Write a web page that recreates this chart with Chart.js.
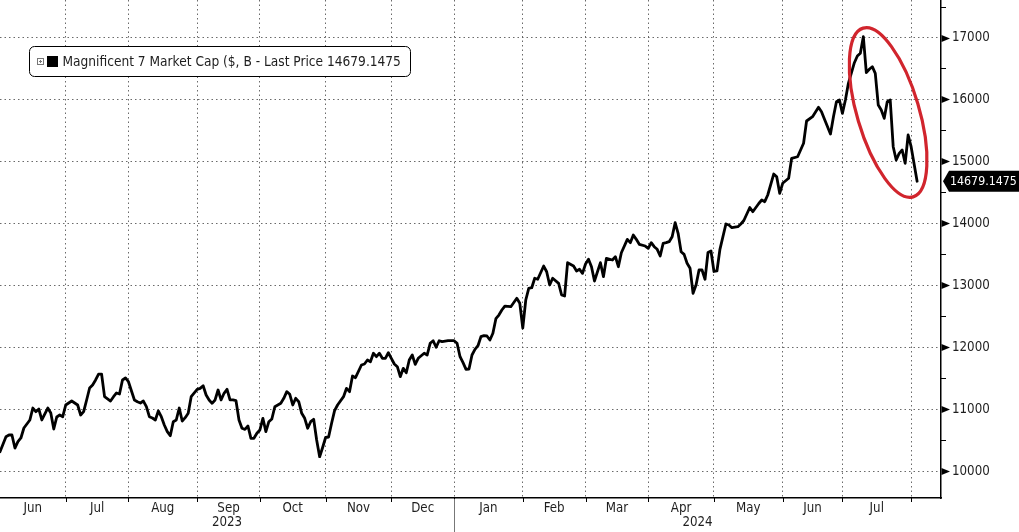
<!DOCTYPE html>
<html>
<head>
<meta charset="utf-8">
<script src="https://cdn.jsdelivr.net/npm/chart.js@4.4.1/dist/chart.umd.min.js"></script>
<style>
html,body{margin:0;padding:0;background:#fff;}
#wrap{width:1019px;height:532px;position:relative;overflow:hidden;}
canvas{display:block;}
</style>
</head>
<body>
<div id="wrap"><canvas id="c" width="1019" height="532"></canvas></div>
<script>
// ---- data (x = trading-day number counted from 1 Jun 2023) ----
const tradingDay = [0,2,3,4,5,6,7,8,10,11,12,13,14,16,17,18,19,20,21,22,23,24,26,27,28,29,30,31,32,33,34,35,37,38,39,40,41,42,43,45,46,47,48,49,50,51,52,53,54,55,56,57,58,59,60,61,62,63,64,66,67,68,69,70,71,72,73,74,75,76,77,78,79,80,81,82,83,84,85,86,87,88,89,90,91,92,94,95,96,97,98,99,100,101,102,103,104,105,106,107,108,109,110,111,112,113,115,116,117,118,119,121,122,123,124,125,126,127,128,129,130,131,132,133,134,135,136,137,138,139,140,142,143,144,145,146,147,148,150,152,153,154,155,156,157,158,159,160,161,162,163,164,165,166,167,168,169,171,173,174,175,176,177,178,179,180,182,183,184,185,187,188,189,190,192,193,194,195,196,197,198,199,201,202,203,205,206,207,208,210,211,212,213,214,216,217,218,219,220,221,222,223,224,225,226,227,228,229,230,231,232,233,234,235,236,237,238,239,240,241,243,244,245,247,248,249,251,252,254,255,256,257,259,260,261,262,264,265,267,269,270,272,274,275,276,278,279,280,281,282,283,284,286,287,288,289,290,291,292,293,294,295,296,297,298,299,300,301,302,303,304,305,307];
const marketCap = [10312,10554,10581,10581,10371,10473,10533,10694,10824,11017,10958,11001,10824,11017,10937,10678,10872,10904,10877,11066,11098,11130,11066,10904,10958,11147,11340,11389,11470,11566,11566,11200,11130,11200,11260,11243,11470,11502,11442,11147,11119,11098,11130,11038,10877,10856,10824,10969,10877,10743,10635,10570,10796,10824,11017,10807,10861,10932,11200,11319,11335,11377,11227,11147,11093,11147,11308,11147,11255,11319,11147,11147,11135,10824,10690,10673,10727,10528,10528,10609,10662,10851,10635,10796,10840,11038,11093,11174,11281,11239,11066,11174,11119,10932,10851,10690,10796,10835,10501,10231,10380,10541,10549,10770,10974,11066,11200,11335,11281,11534,11507,11712,11728,11792,11765,11901,11846,11901,11820,11820,11910,11820,11728,11684,11523,11658,11587,11792,11873,11723,11820,11901,11873,12062,12104,11998,12104,12088,12104,12104,12062,11846,11749,11642,11647,11873,11965,12023,12169,12185,12180,12115,12224,12460,12519,12600,12664,12653,12789,12708,12309,12761,12950,12960,13112,13096,13310,13218,13004,13112,13031,12842,12826,13364,13310,13230,13257,13192,13343,13419,13299,13068,13364,13138,13435,13407,13461,13299,13525,13741,13687,13811,13741,13661,13633,13596,13687,13622,13580,13472,13677,13687,13703,13784,14010,13838,13541,13499,13354,13273,12870,13004,13246,13246,13096,13528,13553,13222,13230,13580,13989,13972,13929,13945,13989,14045,14255,14187,14320,14376,14349,14457,14796,14752,14484,14646,14727,15050,15075,15292,15652,15721,15873,15802,15679,15442,15721,15963,15991,15776,15991,16261,16593,16701,16745,17013,16432,16487,16529,16422,15910,15829,15695,15963,15991,15237,15022,15130,15184,14969,15426,15237,14679.1475];
const monthStarts = [0,22,43,66,87,109,131,152,175,196,217,239,262,282,305];
const monthLabels = ['Jun','Jul','Aug','Sep','Oct','Nov','Dec','Jan','Feb','Mar','Apr','May','Jun','Jul'];
const yearStarts = [0,152];
const yearLabels = ['2023','2024'];
const yTicks = [10000,11000,12000,13000,14000,15000,16000,17000];
const yMinorTicks = [10500,11500,12500,13500,14500,15500,16500,17500];
const seriesName = 'Magnificent 7 Market Cap ($, B - Last Price';
const lastPrice = 14679.1475;
const highlightCentre = {day: 297.3, value: 15789};

const X_MIN = 0, X_MAX = 315, Y_MIN = 9564, Y_MAX = 17606;
const FONT = '"DejaVu Sans Condensed", "DejaVu Sans", sans-serif';
const TEXT = '#1e1e1e';

const decor = {
  id: 'decor',
  afterDatasetsDraw(chart) {
    const ctx = chart.ctx, xs = chart.scales.x, ys = chart.scales.y;
    ctx.save();
    ctx.strokeStyle = '#d1252d';
    ctx.lineWidth = 3.2;
    ctx.beginPath();
    ctx.ellipse(xs.getPixelForValue(highlightCentre.day), ys.getPixelForValue(highlightCentre.value), 31, 88, -16.5 * Math.PI / 180, 0, Math.PI * 2);
    ctx.stroke();
    ctx.restore();
  },
  afterDraw(chart) {
    const ctx = chart.ctx, xs = chart.scales.x, ys = chart.scales.y, area = chart.chartArea;
    ctx.save();
    // y axis: triangles, minor ticks, labels
    ctx.fillStyle = '#000';
    ctx.strokeStyle = '#000';
    ctx.lineWidth = 1;
    yTicks.forEach(v => {
      const y = Math.round(ys.getPixelForValue(v)) + 0.5;
      ctx.beginPath();
      ctx.moveTo(area.right + 0.5, y - 3.5);
      ctx.lineTo(area.right + 9, y);
      ctx.lineTo(area.right + 0.5, y + 3.5);
      ctx.closePath();
      ctx.fill();
    });
    yMinorTicks.forEach(v => {
      const y = Math.round(ys.getPixelForValue(v)) + 0.5;
      ctx.beginPath();
      ctx.moveTo(area.right, y);
      ctx.lineTo(area.right + 5, y);
      ctx.stroke();
    });
    ctx.font = '13.2px ' + FONT;
    ctx.fillStyle = TEXT;
    ctx.textAlign = 'left';
    ctx.textBaseline = 'middle';
    yTicks.forEach(v => {
      ctx.fillText(String(v), area.right + 11, ys.getPixelForValue(v) + 0.5);
    });
    // last price tag
    const ly = ys.getPixelForValue(lastPrice);
    ctx.fillStyle = '#000';
    ctx.beginPath();
    ctx.moveTo(area.right + 2, ly);
    ctx.lineTo(area.right + 8, ly - 10.5);
    ctx.lineTo(chart.width, ly - 10.5);
    ctx.lineTo(chart.width, ly + 10.5);
    ctx.lineTo(area.right + 8, ly + 10.5);
    ctx.closePath();
    ctx.fill();
    ctx.fillStyle = '#fff';
    ctx.font = '12.3px ' + FONT;
    ctx.fillText(lastPrice.toFixed(4), area.right + 9, ly + 0.5);

    // x axis month ticks, labels, year labels, separator
    ctx.strokeStyle = '#000';
    ctx.lineWidth = 1;
    monthStarts.forEach(d => {
      if (d <= X_MIN) return;
      const x = Math.round(xs.getPixelForValue(d)) + 0.5;
      ctx.beginPath();
      ctx.moveTo(x, area.bottom);
      ctx.lineTo(x, area.bottom + 4);
      ctx.stroke();
    });
    ctx.fillStyle = TEXT;
    ctx.font = '13.2px ' + FONT;
    ctx.textAlign = 'center';
    monthLabels.forEach((m, i) => {
      const a = monthStarts[i], b = monthStarts[i + 1];
      ctx.fillText(m, xs.getPixelForValue((a + b) / 2), area.bottom + 10.5);
    });
    yearLabels.forEach((yl, i) => {
      const a = yearStarts[i], b = (i + 1 < yearStarts.length) ? yearStarts[i + 1] : X_MAX;
      ctx.fillText(yl, xs.getPixelForValue((a + b) / 2), area.bottom + 25);
    });
    ctx.strokeStyle = '#777';
    yearStarts.forEach(d => {
      if (d <= X_MIN) return;
      const x = Math.round(xs.getPixelForValue(d)) + 0.5;
      ctx.beginPath();
      ctx.moveTo(x, area.bottom + 1);
      ctx.lineTo(x, chart.height);
      ctx.stroke();
    });

    // legend box
    const bx = 29.5, by = 46.5, bw = 381, bh = 30;
    ctx.fillStyle = '#fff';
    ctx.strokeStyle = '#000';
    ctx.lineWidth = 1;
    ctx.beginPath();
    ctx.roundRect(bx, by, bw, bh, 5);
    ctx.fill();
    ctx.stroke();
    // expander icon
    ctx.strokeStyle = '#777';
    ctx.strokeRect(37.5, 58.5, 6, 6);
    ctx.beginPath();
    ctx.moveTo(39, 61.5); ctx.lineTo(42, 61.5);
    ctx.moveTo(40.5, 60); ctx.lineTo(40.5, 63);
    ctx.stroke();
    // series swatch
    ctx.fillStyle = '#000';
    ctx.fillRect(47, 56, 11, 11);
    ctx.fillStyle = TEXT;
    ctx.font = '13.6px ' + FONT;
    ctx.textAlign = 'left';
    ctx.textBaseline = 'middle';
    ctx.fillText(seriesName + ' ' + lastPrice.toFixed(4), 62.5, 62);
    ctx.restore();
  }
};

const gridCommon = {color: 'rgba(80,80,80,0.85)', lineWidth: 1, drawTicks: false};

new Chart(document.getElementById('c').getContext('2d'), {
  type: 'line',
  data: {
    datasets: [{
      label: seriesName,
      data: tradingDay.map((d, i) => ({x: d, y: marketCap[i]})),
      borderColor: '#000',
      borderWidth: 2.8,
      pointRadius: 0,
      tension: 0,
      borderJoinStyle: 'round',
      borderCapStyle: 'round'
    }]
  },
  options: {
    responsive: false,
    animation: false,
    events: [],
    layout: {padding: 0},
    plugins: {legend: {display: false}, tooltip: {enabled: false}},
    scales: {
      x: {
        type: 'linear', position: 'bottom', min: X_MIN, max: X_MAX,
        afterBuildTicks: s => { s.ticks = monthStarts.filter(v => v > X_MIN).map(v => ({value: v})); },
        afterFit: s => { s.height = 34; },
        ticks: {display: false},
        grid: gridCommon,
        border: {display: true, color: '#000', width: 1.5, dash: [1.5, 3]}
      },
      y: {
        type: 'linear', position: 'right', min: Y_MIN, max: Y_MAX,
        afterBuildTicks: s => { s.ticks = yTicks.map(v => ({value: v})); },
        afterFit: s => { s.width = 78; },
        ticks: {display: false},
        grid: gridCommon,
        border: {display: true, color: '#000', width: 1.5, dash: [1.5, 3]}
      }
    }
  },
  plugins: [decor]
});
</script>
</body>
</html>
